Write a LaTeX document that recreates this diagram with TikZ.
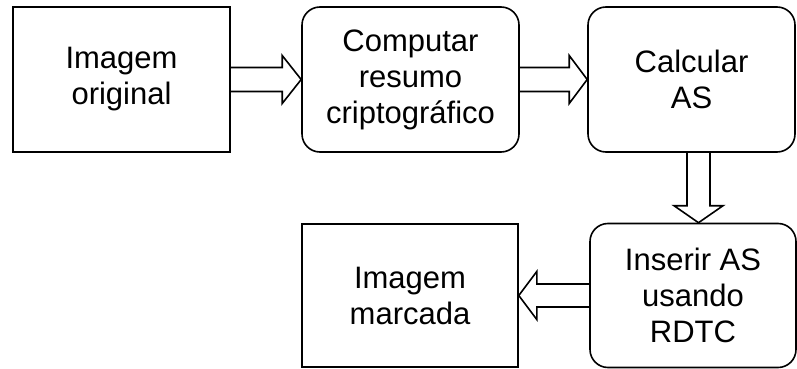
\documentclass[tikz,border=0pt]{standalone}
\usepackage{fontspec}
\setmainfont{Liberation Sans}
\usetikzlibrary{calc}
\begin{document}
\begin{tikzpicture}[x=1pt,y=-1pt,
  box/.style={draw=black,line width=1.6pt,fill=white,inner sep=0pt,align=center,
    font=\fontsize{31}{36}\selectfont},
  rbox/.style={box,rounded corners=18pt},
  blk/.style={draw=black,line width=1.6pt,line join=miter}]
\useasboundingbox (0,0) rectangle (797,369);
\node[box,minimum width=217pt,minimum height=145pt] (orig) at (121.5,79.5) {Imagem\\original};
\node[rbox,minimum width=217pt,minimum height=145pt] (hash) at (410.5,79.5) {Computar\\resumo\\criptográfico};
\node[rbox,minimum width=207pt,minimum height=145pt] (calc) at (691.5,79.5) {Calcular\\AS};
\node[rbox,minimum width=206pt,minimum height=144pt] (ins) at (693,295.5) {Inserir AS\\usando\\RDTC};
\node[box,minimum width=216pt,minimum height=143pt] (out) at (410,295.5) {Imagem\\marcada};
% right arrow orig -> hash
\draw[blk] ($(orig.east)+(0,-12)$) -- ($(hash.west)+(-19,-12)$) -- ($(hash.west)+(-19,-24)$) -- (hash.west)
  -- ($(hash.west)+(-19,24)$) -- ($(hash.west)+(-19,12)$) -- ($(orig.east)+(0,12)$);
% right arrow hash -> calc
\draw[blk] ($(hash.east)+(0,-12)$) -- ($(calc.west)+(-18,-12)$) -- ($(calc.west)+(-18,-24)$) -- (calc.west)
  -- ($(calc.west)+(-18,24)$) -- ($(calc.west)+(-18,12)$) -- ($(hash.east)+(0,12)$);
% down arrow calc -> ins
\coordinate (dtip) at ($(ins.north)+(5.5,0)$);
\coordinate (dstart) at (calc.south -| dtip);
\draw[blk] ($(dstart)+(-11.5,0)$) -- ($(dtip)+(-11.5,-17)$) -- ($(dtip)+(-24.5,-17)$) -- (dtip)
  -- ($(dtip)+(24.5,-17)$) -- ($(dtip)+(11.5,-17)$) -- ($(dstart)+(11.5,0)$);
% left arrow ins -> out
\draw[blk] ($(ins.west)+(0,-11.5)$) -- ($(out.east)+(18,-11.5)$) -- ($(out.east)+(18,-24)$) -- (out.east)
  -- ($(out.east)+(18,24)$) -- ($(out.east)+(18,11.5)$) -- ($(ins.west)+(0,11.5)$);
\end{tikzpicture}
\end{document}
